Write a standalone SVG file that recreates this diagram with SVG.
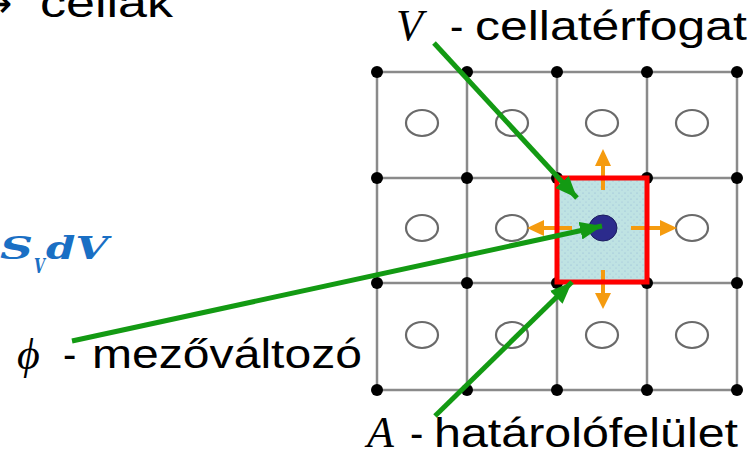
<svg xmlns="http://www.w3.org/2000/svg" width="754" height="453" viewBox="0 0 754 453">
<style>
.t{font-family:"Liberation Sans",Arial,sans-serif;font-size:40px;fill:#000}
.m{font-family:"Liberation Serif","DejaVu Serif",serif;font-style:italic;font-size:44px;fill:#000}
.b{font-family:"DejaVu Serif","Liberation Serif",serif;font-style:italic;font-weight:bold;fill:#1a6fc4}
.gl{stroke:#8a8a8a;stroke-width:2.5;fill:none}
.dot{fill:#000}
.cc{fill:#fff;stroke:#6a6a6a;stroke-width:2.2}
.or{stroke:#f59b0f;stroke-width:4;fill:none}
.orh{fill:#f59b0f}
.gr{stroke:#139a13;stroke-width:5;fill:none}
</style>
<defs>
<marker id="ga" markerUnits="userSpaceOnUse" markerWidth="24" markerHeight="18" refX="22" refY="9" orient="auto">
<path d="M0,0 L22,9 L0,18 Z" fill="#139a13"/>
</marker>
<pattern id="stip" width="6" height="6" patternUnits="userSpaceOnUse">
<rect width="6" height="6" fill="#bfe3e3"/>
<circle cx="1" cy="1" r="0.6" fill="#8fb4d6"/>
<circle cx="4" cy="4" r="0.6" fill="#9fc0d8"/>
</pattern>
</defs>
<rect width="754" height="453" fill="#fff"/>

<g id="label-cellak">
<text x="-21" y="17" style="font-family:'DejaVu Sans',sans-serif;font-size:40px">→</text>
<text class="t" x="40" y="17" textLength="133" lengthAdjust="spacingAndGlyphs">cellák</text>
</g>

<g id="label-SvdV">
<text class="b" x="0" y="259" font-size="32" textLength="33" lengthAdjust="spacingAndGlyphs">S</text>
<text class="b" x="34" y="273" font-size="21" textLength="11" lengthAdjust="spacingAndGlyphs">V</text>
<text class="b" x="46" y="259" font-size="32" textLength="62" lengthAdjust="spacingAndGlyphs">dV</text>
</g>

<g id="grid">
<path class="gl" d="M377,72 H737 M377,178 H737 M377,283 H737 M377,390 H737 M377,72 V390 M467,72 V390 M557,72 V390 M647,72 V390 M737,72 V390"/>
<g>
<ellipse class="cc" cx="422" cy="123" rx="16" ry="13"/>
<ellipse class="cc" cx="512" cy="123" rx="16" ry="13"/>
<ellipse class="cc" cx="602" cy="123" rx="16" ry="13"/>
<ellipse class="cc" cx="692" cy="123" rx="16" ry="13"/>
<ellipse class="cc" cx="422" cy="228" rx="16" ry="13"/>
<ellipse class="cc" cx="512" cy="228" rx="16" ry="13"/>
<ellipse class="cc" cx="692" cy="228" rx="16" ry="13"/>
<ellipse class="cc" cx="422" cy="335" rx="16" ry="13"/>
<ellipse class="cc" cx="512" cy="335" rx="16" ry="13"/>
<ellipse class="cc" cx="602" cy="335" rx="16" ry="13"/>
<ellipse class="cc" cx="692" cy="335" rx="16" ry="13"/>
</g>
<g>
<circle class="dot" cx="377" cy="72" r="6"/><circle class="dot" cx="467" cy="72" r="6"/><circle class="dot" cx="557" cy="72" r="6"/><circle class="dot" cx="647" cy="72" r="6"/><circle class="dot" cx="737" cy="72" r="6"/>
<circle class="dot" cx="377" cy="178" r="6"/><circle class="dot" cx="467" cy="178" r="6"/><circle class="dot" cx="557" cy="178" r="6"/><circle class="dot" cx="647" cy="178" r="6"/><circle class="dot" cx="737" cy="178" r="6"/>
<circle class="dot" cx="377" cy="283" r="6"/><circle class="dot" cx="467" cy="283" r="6"/><circle class="dot" cx="557" cy="283" r="6"/><circle class="dot" cx="647" cy="283" r="6"/><circle class="dot" cx="737" cy="283" r="6"/>
<circle class="dot" cx="377" cy="390" r="6"/><circle class="dot" cx="467" cy="390" r="6"/><circle class="dot" cx="557" cy="390" r="6"/><circle class="dot" cx="647" cy="390" r="6"/><circle class="dot" cx="737" cy="390" r="6"/>
</g>
</g>

<g id="control-volume">
<rect x="557" y="178" width="90" height="105" fill="url(#stip)"/>
<g id="fluxes">
<path class="or" d="M603,190 V163 M603,270 V296 M572,228 H541 M631,228 H662"/>
<path class="orh" d="M603,149 L611,166 L595,166 Z M603,309 L611,293 L595,293 Z M527,228 L544,220 L544,236 Z M677,228 L660,220 L660,236 Z"/>
</g>
<ellipse cx="603" cy="228" rx="14" ry="13" fill="#2b2b8c" stroke="#1c1c5e" stroke-width="1"/>
<rect x="557" y="178" width="90" height="104" fill="none" stroke="#ff0000" stroke-width="5"/>
</g>

<g id="connectors">
<line class="gr" x1="434" y1="43" x2="577" y2="198" marker-end="url(#ga)"/>
<line class="gr" x1="72" y1="341" x2="602" y2="226" marker-end="url(#ga)"/>
<line class="gr" x1="435" y1="416" x2="572" y2="282" marker-end="url(#ga)"/>
</g>

<g id="label-V">
<text class="m" x="396" y="40">V</text>
<text class="t" x="450" y="40">-</text>
<text class="t" x="475" y="40" textLength="272" lengthAdjust="spacingAndGlyphs">cellatérfogat</text>
</g>

<g id="label-phi">
<text class="m" x="17" y="369" font-size="48">ϕ</text>
<text class="t" x="63" y="368">-</text>
<text class="t" x="92" y="368" textLength="270" lengthAdjust="spacingAndGlyphs">mezőváltozó</text>
</g>

<g id="label-A">
<text class="m" x="367" y="447">A</text>
<text class="t" x="410" y="447">-</text>
<text class="t" x="434" y="447" textLength="304" lengthAdjust="spacingAndGlyphs">határolófelület</text>
</g>
</svg>
